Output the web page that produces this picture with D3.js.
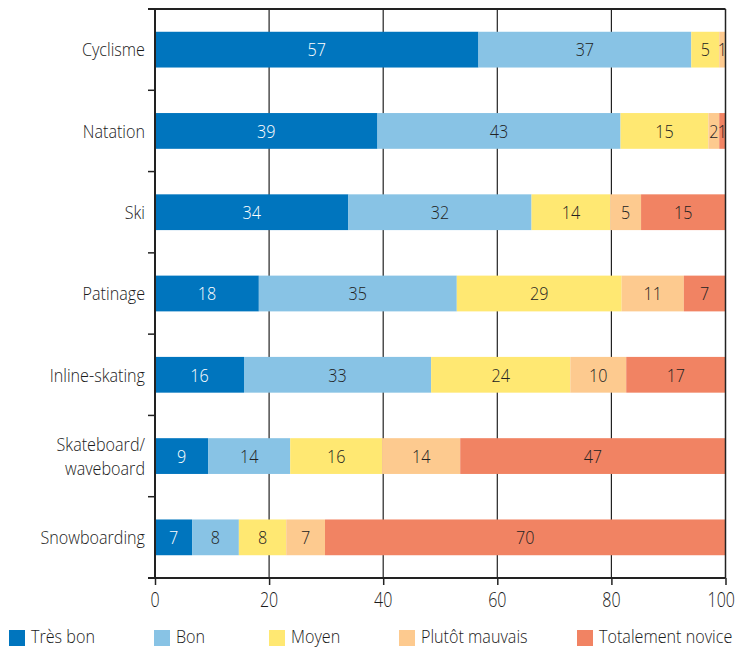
<!DOCTYPE html>
<html>
<head>
<meta charset="utf-8">
<script src="https://cdn.jsdelivr.net/npm/d3@7"></script>
<style>
  html, body { margin: 0; padding: 0; background: #fff; }
  text { font-family: "Open Sans", "Noto Sans", sans-serif; }
</style>
</head>
<body>
<svg id="chart" width="736" height="648"></svg>
<script>
const categories = ["Cyclisme", "Natation", "Ski", "Patinage", "Inline-skating", "Skateboard/\nwaveboard", "Snowboarding"];
const seriesNames = ["Très bon", "Bon", "Moyen", "Plutôt mauvais", "Totalement novice"];
const tresBon   = [56.7, 39.0, 33.9, 18.2, 15.6, 9.3, 6.5];
const bon       = [37.3, 42.6, 32.1, 34.7, 32.8, 14.4, 8.2];
const moyen     = [4.9, 15.4, 13.8, 28.9, 24.4, 16.1, 8.3];
const plutotMauvais = [1.1, 1.9, 5.4, 10.9, 9.8, 13.7, 6.8];
const totalementNovice = [0, 1.1, 14.8, 7.3, 17.4, 46.5, 70.2];
const xTicks = [0, 20, 40, 60, 80, 100];

const colors = ["#0075be", "#88c3e5", "#ffe872", "#fdca8f", "#f18363"];
const labelColors = ["#ffffff", "#222222", "#222222", "#222222", "#222222"];

const seriesValues = [tresBon, bon, moyen, plutotMauvais, totalementNovice];
const rows = categories.map((c, i) => {
  const r = { cat: c };
  seriesNames.forEach((s, j) => r[s] = seriesValues[j][i]);
  return r;
});

const svg = d3.select("#chart");
const mLeft = 155, mRight = 725.5, mTop = 9, mBottom = 578;
const FS = 19, SX = 0.85;

// condensed text helper: real text, horizontally compressed around its anchor
function ctext(g, px, py, str, opts = {}) {
  const t = g.append("text")
    .attr("transform", `translate(${px},${py}) scale(${opts.sx || SX},1)`)
    .attr("text-anchor", opts.anchor || "middle")
    .attr("font-size", opts.fs || FS)
    .attr("font-weight", 300)
    .attr("fill", opts.fill || "#1a1a1a");
  const lines = String(str).split("\n");
  const lh = opts.lh || 23.5;
  lines.forEach((ln, k) => {
    t.append("tspan").attr("x", 0)
      .attr("y", (k - (lines.length - 1) / 2) * lh)
      .attr("dy", "0.36em")
      .text(ln);
  });
  return t;
}

const x = d3.scaleLinear().domain([0, 100]).range([mLeft, mRight]);
const y = d3.scaleBand().domain(categories).range([mTop, mBottom]).paddingInner(0.56).paddingOuter(0.28);

const stacked = d3.stack().keys(seriesNames)(rows);

// grid lines
svg.append("g").selectAll("line").data(xTicks.filter(t => t > 0 && t < 100)).join("line")
  .attr("x1", d => x(d)).attr("x2", d => x(d))
  .attr("y1", mTop).attr("y2", mBottom)
  .attr("stroke", "#222").attr("stroke-width", 1.2);

// bars
const layers = svg.append("g").selectAll("g").data(stacked).join("g")
  .attr("fill", (d, i) => colors[i]);
layers.selectAll("rect").data(d => d).join("rect")
  .attr("x", d => x(d[0]))
  .attr("width", d => Math.max(0, x(d[1]) - x(d[0])))
  .attr("y", d => y(d.data.cat))
  .attr("height", y.bandwidth());

// value labels
const labG = svg.append("g");
stacked.forEach((layer, i) => {
  layer.filter(v => v[1] - v[0] >= 0.5).forEach(d => {
    ctext(labG, (x(d[0]) + x(d[1])) / 2, y(d.data.cat) + y.bandwidth() / 2,
      d3.format(".0f")(d[1] - d[0]), { fill: labelColors[i] });
  });
});

// frame: top and right
svg.append("line").attr("x1", mLeft - 7).attr("x2", mRight).attr("y1", mTop).attr("y2", mTop)
  .attr("stroke", "#222").attr("stroke-width", 2);
svg.append("line").attr("x1", mRight).attr("x2", mRight).attr("y1", mTop).attr("y2", mBottom)
  .attr("stroke", "#222").attr("stroke-width", 1.5);

// left axis with boundary ticks
svg.append("line").attr("x1", mLeft).attr("x2", mLeft).attr("y1", mTop).attr("y2", mBottom)
  .attr("stroke", "#222").attr("stroke-width", 2);
const boundaries = d3.range(categories.length + 1).map(i => mTop + i * (mBottom - mTop) / categories.length);
svg.append("g").selectAll("line").data(boundaries).join("line")
  .attr("x1", mLeft - 7).attr("x2", mLeft)
  .attr("y1", d => d).attr("y2", d => d)
  .attr("stroke", "#222").attr("stroke-width", 1.5);

// category labels
const catG = svg.append("g");
categories.forEach(c => {
  ctext(catG, mLeft - 10, y(c) + y.bandwidth() / 2, c, { anchor: "end" });
});

// bottom axis
const xAxis = d3.axisBottom(x).tickValues(xTicks).tickSize(7).tickSizeOuter(0).tickFormat("");
const gx = svg.append("g").attr("transform", `translate(0,${mBottom})`).call(xAxis);
gx.select(".domain").remove();
gx.selectAll(".tick line").attr("stroke", "#222").attr("stroke-width", 1.5);
const tickG = svg.append("g");
xTicks.forEach(t => {
  const isLast = t === xTicks[xTicks.length - 1];
  ctext(tickG, isLast ? 735 : x(t), 600, d3.format("d")(t),
    { fs: 20, sx: 0.8, anchor: isLast ? "end" : "middle" });
});
svg.append("line").attr("x1", mLeft - 7).attr("x2", mRight).attr("y1", mBottom).attr("y2", mBottom)
  .attr("stroke", "#222").attr("stroke-width", 2);

// legend
const legendX = [9, 154, 269, 399, 577];
const legG = svg.append("g");
seriesNames.forEach((s, i) => {
  legG.append("rect").attr("x", legendX[i]).attr("y", 630).attr("width", 16).attr("height", 16).attr("fill", colors[i]);
  ctext(legG, legendX[i] + 22, 636, s, { anchor: "start" });
});
</script>
</body>
</html>
